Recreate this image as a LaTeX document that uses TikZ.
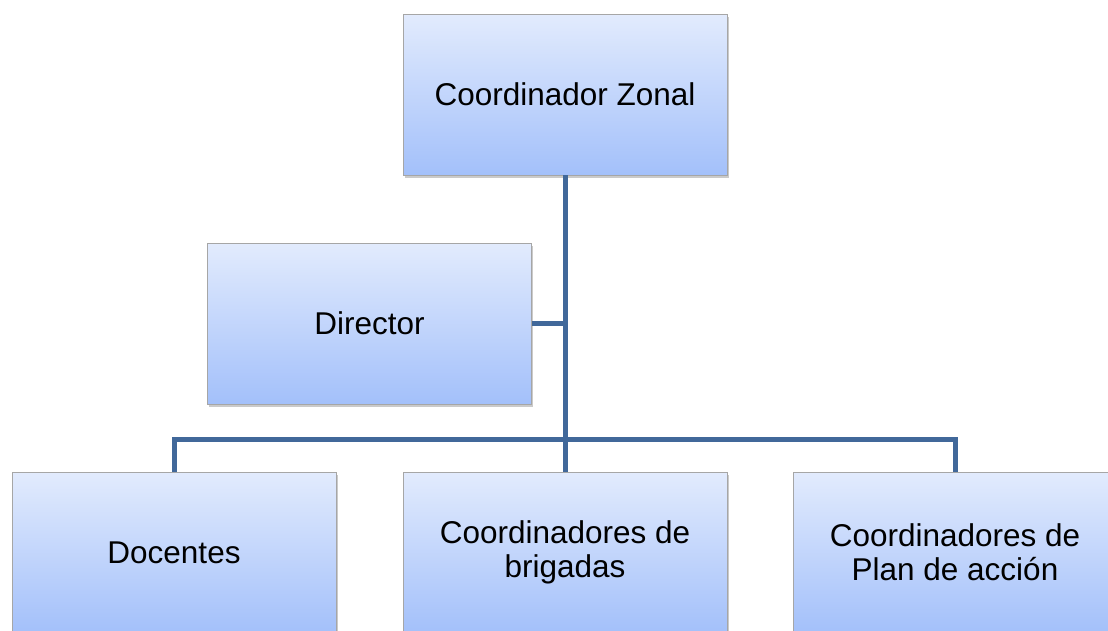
\documentclass[tikz,border=0pt]{standalone}
\usepackage{fontspec}
\setmainfont{Liberation Sans}
\usetikzlibrary{shadows}

\definecolor{boxtop}{HTML}{E2EBFD}
\definecolor{boxbottom}{HTML}{A3C0FA}
\definecolor{boxline}{HTML}{A6A6A6}
\definecolor{orgline}{HTML}{41689A}

\tikzset{
    orgbox/.style={rectangle, draw=boxline, line width=0.8pt,
        top color=boxtop, bottom color=boxbottom,
        minimum width=324pt, minimum height=161pt, align=center,
        font=\fontsize{31.5}{34}\selectfont,
        drop shadow={shadow xshift=1.5pt, shadow yshift=-3pt, opacity=0.35, fill=black!60}},
    orglink/.style={draw=orgline, line width=5pt}
}

\begin{document}
\begin{tikzpicture}[x=1pt, y=-1pt]
    \useasboundingbox (0,0) rectangle (1108,630);

    % Head
    \node[orgbox] (zonal) at (565,94.5) {Coordinador Zonal};

    % Assistant
    \node[orgbox] (director) at (369.5,323.5) {Director};

    % Staff
    \node[orgbox] (docentes) at (174,552.5) {Docentes};
    \node[orgbox] (brigadas) at (565,552.5) {Coordinadores de\\brigadas};
    \node[orgbox] (plan) at (955,552.5) {Coordinadores de\\Plan de acción};

    % Links
    \coordinate (bus) at (565,439);
    \draw[orglink] (zonal.south) -- (brigadas.north);
    \draw[orglink] (director.east) -- (director.east -| zonal.south);
    \draw[orglink] (docentes.north) |- (bus) -| (plan.north);
\end{tikzpicture}
\end{document}
